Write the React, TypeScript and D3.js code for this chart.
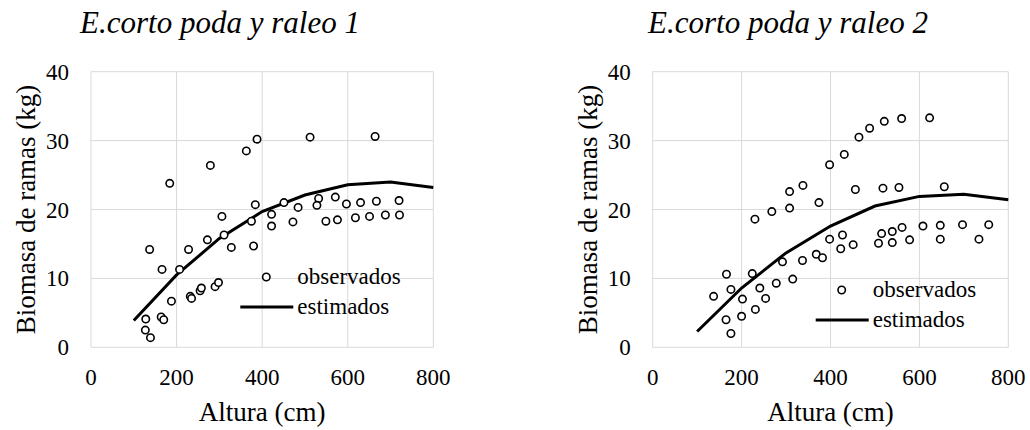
import React from 'react';
import * as d3 from 'd3';

const alturas1 = [184, 279, 363, 388, 512, 664, 137, 166, 207, 228, 272, 311, 306, 328, 375, 380, 384, 422, 422, 451, 484, 472, 532, 528, 571, 549, 576, 597, 630, 667, 720, 618, 651, 688, 721, 188, 232, 235, 255, 258, 290, 298, 128, 164, 170, 127, 139];
const biomasa1 = [23.8, 26.4, 28.5, 30.2, 30.5, 30.6, 14.2, 11.3, 11.3, 14.2, 15.6, 16.3, 19.0, 14.5, 18.3, 14.7, 20.7, 19.3, 17.6, 21.0, 20.3, 18.2, 21.6, 20.6, 21.8, 18.3, 18.5, 20.8, 21.0, 21.2, 21.3, 18.8, 19.0, 19.2, 19.2, 6.7, 7.4, 7.1, 8.2, 8.6, 8.8, 9.4, 4.1, 4.4, 4.0, 2.5, 1.4];

const alturas2 = [623, 560, 521, 488, 464, 431, 398, 338, 308, 268, 308, 230, 374, 456, 518, 554, 656, 398, 427, 423, 451, 368, 382, 337, 292, 315, 278, 254, 241, 224, 231, 200, 202, 176, 166, 137, 165, 176, 515, 539, 561, 508, 539, 578, 608, 647, 647, 697, 734, 756];
const biomasa2 = [33.3, 33.2, 32.8, 31.8, 30.5, 28.0, 26.5, 23.5, 22.6, 19.7, 20.2, 18.6, 21.0, 22.9, 23.1, 23.2, 23.3, 15.7, 16.3, 14.3, 14.9, 13.5, 13.0, 12.6, 12.4, 9.9, 9.3, 7.1, 8.6, 10.7, 5.5, 4.5, 7.0, 8.4, 10.6, 7.4, 4.0, 2.0, 16.5, 16.8, 17.4, 15.1, 15.2, 15.6, 17.6, 17.7, 15.7, 17.8, 15.7, 17.8];

// estimated curve
const alturasEst = [100, 200, 300, 400, 500, 600, 700, 800];
const estimados1 = [3.9, 10.5, 15.8, 19.7, 22.1, 23.6, 24.0, 23.2];
const estimados2 = [2.3, 8.6, 13.7, 17.6, 20.5, 21.9, 22.2, 21.4];

const xTicks = [0, 200, 400, 600, 800];
const yTicks = [0, 10, 20, 30, 40];

interface PanelProps {
  title: string;
  titleX: number;
  left: number;
  right: number;
  xs: number[];
  ys: number[];
  est: number[];
  legendX: number;
  legendY: number;
}

const Panel: React.FC<PanelProps> = ({ title, titleX, left, right, xs, ys, est, legendX, legendY }) => {
  const top = 71.7;
  const bottom = 347.3;
  const x = d3.scaleLinear().domain([0, 800]).range([left, right]);
  const y = d3.scaleLinear().domain([0, 40]).range([bottom, top]);
  const line = d3.line<number>()
    .x((_, i) => x(alturasEst[i]))
    .y(d => y(d));

  return (
    <g fill="#000">
      <text x={titleX} y={33} fontSize={31} fontStyle="italic" textAnchor="middle">{title}</text>
      {/* grid */}
      {yTicks.map(t => (
        <line key={'gy' + t} x1={left} x2={right} y1={y(t)} y2={y(t)} stroke="#d9d9d9" strokeWidth={1} />
      ))}
      {xTicks.map(t => (
        <line key={'gx' + t} x1={x(t)} x2={x(t)} y1={top} y2={bottom} stroke="#d9d9d9" strokeWidth={1} />
      ))}
      {yTicks.map(t => (
        <text key={'ty' + t} x={left - 22} y={y(t)} dy="0.35em" fontSize={23} textAnchor="end">{t}</text>
      ))}
      {xTicks.map(t => (
        <text key={'tx' + t} x={x(t)} y={385} fontSize={23} textAnchor="middle">{t}</text>
      ))}
      <text x={(left + right) / 2} y={421} fontSize={27} textAnchor="middle">Altura (cm)</text>
      <text transform={`translate(${left - 56},${(top + bottom) / 2}) rotate(-90)`} fontSize={27} textAnchor="middle">
        Biomasa de ramas (kg)
      </text>
      {/* estimated */}
      <path d={line(est) || ''} fill="none" stroke="#000" strokeWidth={3} />
      {/* observed */}
      {xs.map((v, i) => (
        <circle key={i} cx={x(v)} cy={y(ys[i])} r={3.7} fill="#fff" stroke="#000" strokeWidth={1.6} />
      ))}
      {/* legend */}
      <circle cx={legendX} cy={legendY} r={3.7} fill="#fff" stroke="#000" strokeWidth={1.6} />
      <text x={legendX + 31} y={legendY + 7} fontSize={23}>observados</text>
      <line x1={legendX - 26} x2={legendX + 27} y1={legendY + 30} y2={legendY + 30} stroke="#000" strokeWidth={3} />
      <text x={legendX + 31} y={legendY + 37} fontSize={23}>estimados</text>
    </g>
  );
};

export default function App() {
  return (
    <svg width={1030} height={430}
      style={{ position: 'absolute', left: 0, top: 0, background: '#fff', fontFamily: '"Liberation Serif", Tinos, Times, serif' }}>
      <style>{`text { font-family: "Liberation Serif", Tinos, Times, serif; }`}</style>
      <rect width={1030} height={430} fill="#fff" />
      <Panel title="E.corto poda y raleo 1" titleX={220} left={91} right={433.3}
        xs={alturas1} ys={biomasa1} est={estimados1} legendX={266.3} legendY={277} />
      <Panel title="E.corto poda y raleo 2" titleX={788} left={652.7} right={1008.3}
        xs={alturas2} ys={biomasa2} est={estimados2} legendX={841.7} legendY={290} />
    </svg>
  );
}
